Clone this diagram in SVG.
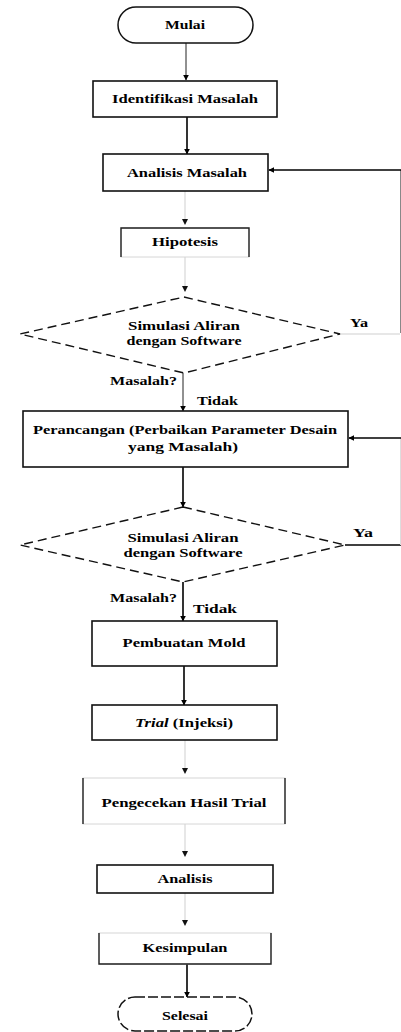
<svg xmlns="http://www.w3.org/2000/svg" width="401" height="1032" viewBox="0 0 401 1032">
<defs>
<marker id="ah" viewBox="0 0 10 10" refX="9" refY="5" markerWidth="6" markerHeight="6" orient="auto" markerUnits="userSpaceOnUse">
<path d="M0,0 L10,5 L0,10 z" fill="#000"/>
</marker>
</defs>
<style>
.box{fill:#fff;stroke:#111;stroke-width:1.6}
.faint{fill:none;stroke:#d6d6d6;stroke-width:1}
.dia{fill:#fff;stroke:#111;stroke-width:1.4;stroke-dasharray:9 5}
.term{fill:#fff;stroke:#111;stroke-width:1.5}
.t{font-family:"Liberation Serif","Times New Roman",serif;font-weight:bold;font-size:13px;fill:#000;text-anchor:middle}
.tl{font-family:"Liberation Serif","Times New Roman",serif;font-weight:bold;font-size:13px;fill:#000}
.c{fill:none;stroke:#000;stroke-width:1.6}
.cthin{fill:none;stroke:#222;stroke-width:1}
.cfaint{fill:none;stroke:#cfcfcf;stroke-width:1}
</style>
<rect width="401" height="1032" fill="#fff"/>

<g id="connectors">
<line class="cthin" x1="186" y1="43" x2="186" y2="80" marker-end="url(#ah)"/>
<line class="c" x1="187" y1="117" x2="187" y2="154" marker-end="url(#ah)"/>
<line class="cfaint" x1="185" y1="191" x2="185" y2="224"/>
<path d="M182,219 L188,219 L185,225 z" fill="#111"/>
<line class="cfaint" x1="185" y1="257" x2="185" y2="291"/>
<path d="M182,286 L188,286 L185,292 z" fill="#111"/>
<line class="cfaint" x1="340" y1="334" x2="400" y2="334"/>
<line x1="400.5" y1="170" x2="400.5" y2="333" stroke="#888" stroke-width="1"/>
<line class="c" x1="401" y1="170" x2="269" y2="170" marker-end="url(#ah)"/>
<line class="cthin" x1="183" y1="373" x2="183" y2="411" marker-end="url(#ah)"/>
<line class="c" x1="345" y1="545" x2="401" y2="545"/>
<line x1="400.5" y1="438" x2="400.5" y2="545" stroke="#ddd" stroke-width="1"/>
<line class="c" x1="401" y1="438" x2="349" y2="438" marker-end="url(#ah)"/>
<line class="c" x1="183" y1="467" x2="183" y2="507" marker-end="url(#ah)"/>
<line class="c" x1="183" y1="582" x2="183" y2="621" marker-end="url(#ah)"/>
<line class="c" x1="184" y1="666" x2="184" y2="705" marker-end="url(#ah)"/>
<line class="cfaint" x1="185" y1="740" x2="185" y2="773"/>
<path d="M182,768 L188,768 L185,774 z" fill="#111"/>
<line class="cfaint" x1="185" y1="824" x2="185" y2="856"/>
<path d="M182,851 L188,851 L185,857 z" fill="#111"/>
<line class="cfaint" x1="185" y1="893" x2="185" y2="925"/>
<path d="M182,920 L188,920 L185,926 z" fill="#111"/>
<line class="c" x1="187" y1="964" x2="187" y2="997" marker-end="url(#ah)"/>
</g>

<g id="mulai">
<rect class="term" x="118" y="7" width="135" height="36" rx="18" ry="18"/>
<text class="t" x="185" y="29" textLength="40" lengthAdjust="spacingAndGlyphs">Mulai</text>
</g>

<g id="identifikasi">
<rect class="box" x="93" y="81" width="184" height="36"/>
<text class="t" x="185" y="103" textLength="146" lengthAdjust="spacingAndGlyphs">Identifikasi Masalah</text>
</g>

<g id="analisis-masalah">
<rect class="box" x="103" y="154" width="165" height="37"/>
<text class="t" x="187" y="177" textLength="120" lengthAdjust="spacingAndGlyphs">Analisis Masalah</text>
</g>

<g id="hipotesis">
<rect class="faint" x="121" y="228" width="128" height="29"/>
<path d="M121,257 L121,228 L249,228 L249,257" fill="none" stroke="#222" stroke-width="1.4"/>
<text class="t" x="185" y="246" textLength="66" lengthAdjust="spacingAndGlyphs">Hipotesis</text>
</g>

<g id="simulasi1">
<polygon class="dia" points="184,297 340,334 184,373 20,334"/>
<text class="t" x="184" y="330" textLength="112" lengthAdjust="spacingAndGlyphs">Simulasi Aliran</text>
<text class="t" x="184" y="345" textLength="115" lengthAdjust="spacingAndGlyphs">dengan Software</text>
<text class="tl" x="350" y="327" textLength="18" lengthAdjust="spacingAndGlyphs">Ya</text>
<text class="tl" x="110" y="385" textLength="67" lengthAdjust="spacingAndGlyphs">Masalah?</text>
<text class="tl" x="197" y="405" textLength="41" lengthAdjust="spacingAndGlyphs">Tidak</text>
</g>

<g id="perancangan">
<rect class="box" x="23" y="411" width="325" height="56"/>
<text class="t" x="185" y="434" textLength="304" lengthAdjust="spacingAndGlyphs">Perancangan (Perbaikan Parameter Desain</text>
<text class="t" x="183" y="451" textLength="110" lengthAdjust="spacingAndGlyphs">yang Masalah)</text>
</g>

<g id="simulasi2">
<polygon class="dia" points="183,507 345,545 183,582 20,545"/>
<text class="t" x="183" y="542" textLength="111" lengthAdjust="spacingAndGlyphs">Simulasi Aliran</text>
<text class="t" x="183" y="557" textLength="119" lengthAdjust="spacingAndGlyphs">dengan Software</text>
<text class="tl" x="353" y="537" textLength="20" lengthAdjust="spacingAndGlyphs">Ya</text>
<text class="tl" x="110" y="602" textLength="67" lengthAdjust="spacingAndGlyphs">Masalah?</text>
<text class="tl" x="193" y="613" textLength="44" lengthAdjust="spacingAndGlyphs">Tidak</text>
</g>

<g id="pembuatan">
<rect class="box" x="92" y="621" width="185" height="45"/>
<text class="t" x="184" y="647" textLength="123" lengthAdjust="spacingAndGlyphs">Pembuatan Mold</text>
</g>

<g id="trial">
<rect class="box" x="92" y="705" width="185" height="35"/>
<text class="t" x="184" y="727" textLength="98" lengthAdjust="spacingAndGlyphs"><tspan font-style="italic">Trial</tspan> (Injeksi)</text>
</g>

<g id="pengecekan">
<rect class="faint" x="83" y="778" width="202" height="46"/>
<line x1="83" y1="778" x2="83" y2="824" stroke="#222" stroke-width="1.4"/>
<line x1="285" y1="778" x2="285" y2="824" stroke="#222" stroke-width="1.4"/>
<text class="t" x="184" y="807" textLength="165" lengthAdjust="spacingAndGlyphs">Pengecekan Hasil Trial</text>
</g>

<g id="analisis">
<rect class="box" x="97" y="865" width="176" height="28"/>
<text class="t" x="185" y="883" textLength="55" lengthAdjust="spacingAndGlyphs">Analisis</text>
</g>

<g id="kesimpulan">
<rect class="faint" x="99" y="933" width="172" height="31"/>
<path d="M99,933 L99,964 L271,964 L271,933" fill="none" stroke="#222" stroke-width="1.4"/>
<text class="t" x="185" y="952" textLength="85" lengthAdjust="spacingAndGlyphs">Kesimpulan</text>
</g>

<g id="selesai">
<rect class="term" x="118" y="997" width="134" height="34" rx="17" ry="17" stroke-dasharray="10 3"/>
<text class="t" x="185" y="1020" textLength="46" lengthAdjust="spacingAndGlyphs">Selesai</text>
</g>
</svg>
